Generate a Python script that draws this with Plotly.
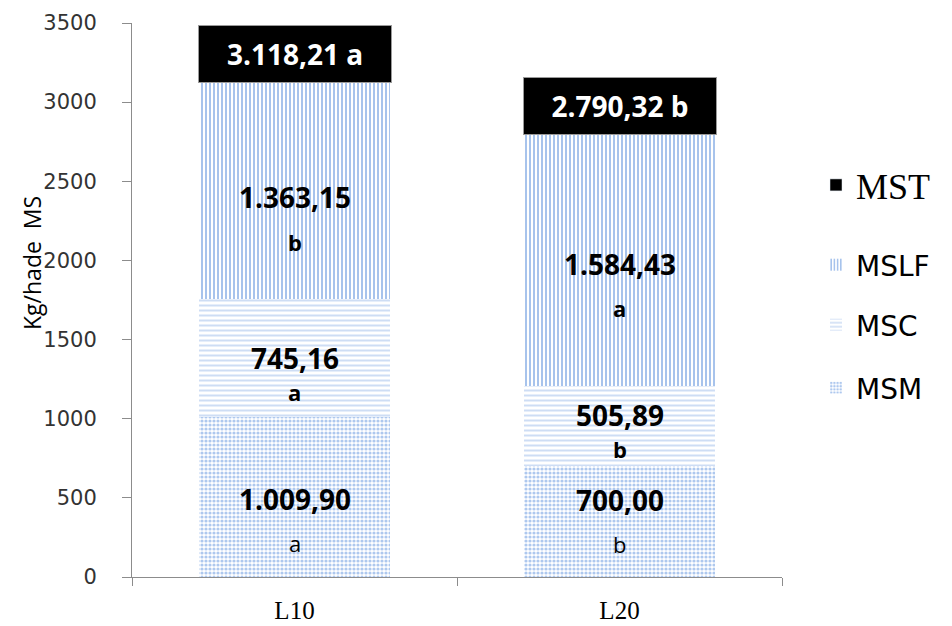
import plotly.graph_objects as go

# Dry-matter yield per component (kg/ha DM)
categories = ["L10", "L20"]
msm = [1009.90, 700.00]
msc = [745.16, 505.89]
mslf = [1363.15, 1584.43]
mst = [3118.21, 2790.32]

# Mean-separation letters for each component
msm_letters = ["a", "b"]
msc_letters = ["a", "b"]
mslf_letters = ["b", "a"]
mst_letters = ["a", "b"]

y_ticks = [0, 500, 1000, 1500, 2000, 2500, 3000, 3500]


def br_number(v):
    """Format with '.' thousands and ',' decimals."""
    s = f"{v:,.2f}"
    return s.replace(",", "#").replace(".", ",").replace("#", ".")


W, H = 952, 626
ML, MR, MT, MB = 132, 170, 23, 49
PW, PH = W - ML - MR, H - MT - MB


def px_to_paper_x(px):
    return (px - ML) / PW


def px_to_paper_y(py):
    return (H - MB - py) / PH


SANS = "Open Sans"
BAR_W = 0.585

layers = [
    dict(name="MSM", values=msm, letters=msm_letters, legend="legend4",
         pattern=dict(shape=".", fgcolor="#5e92de", bgcolor="white", size=4, solidity=0.5),
         letter_bold=False, num_shift=[-2, 22], letter_shift=[-46, -22]),
    dict(name="MSC", values=msc, letters=msc_letters, legend="legend3",
         pattern=dict(shape="-", fgcolor="#9dbbea", bgcolor="white", size=5, solidity=0.4),
         letter_bold=True, num_shift=[0, 11], letter_shift=[-34, -23]),
    dict(name="MSLF", values=mslf, letters=mslf_letters, legend="legend2",
         pattern=dict(shape="|", fgcolor="#4f87da", bgcolor="white", size=4, solidity=0.5),
         letter_bold=True, num_shift=[-6, -3], letter_shift=[-51, -47]),
]

fig = go.Figure()
annotations = []
base = [0.0 for _ in categories]

for layer in layers:
    fig.add_trace(go.Bar(
        name=layer["name"],
        x=categories,
        y=layer["values"],
        width=BAR_W,
        marker=dict(color="white", line=dict(width=0), pattern=layer["pattern"]),
        legend=layer["legend"],
        hoverinfo="skip",
    ))
    for i, cat in enumerate(categories):
        v = layer["values"][i]
        mid = base[i] + v / 2
        annotations.append(dict(
            x=cat, y=mid, xref="x", yref="y", showarrow=False,
            text=f"<b>{br_number(v)}</b>",
            font=dict(family=SANS, size=28, color="black"),
            yshift=layer["num_shift"][i],
        ))
        letter = layer["letters"][i]
        annotations.append(dict(
            x=cat, y=mid, xref="x", yref="y", showarrow=False,
            text=f"<b>{letter}</b>" if layer["letter_bold"] else letter,
            font=dict(family=SANS, size=22, color="black"),
            yshift=layer["letter_shift"][i],
        ))
        base[i] += v

# Legend-only entry for the total
fig.add_trace(go.Bar(
    name="MST", x=categories, y=[None, None], width=BAR_W,
    marker=dict(color="black"), legend="legend", hoverinfo="skip",
))

# Total labels in black boxes sitting on top of each stack
for i, cat in enumerate(categories):
    annotations.append(dict(
        x=cat, y=mst[i], xref="x", yref="y", showarrow=False,
        yanchor="bottom",
        text=f"<b>{br_number(mst[i])} {mst_letters[i]}</b>",
        font=dict(family=SANS, size=28, color="white"),
        bgcolor="black", bordercolor="#9a9a9a", borderwidth=1, borderpad=2,
        width=188, height=52,
    ))

# Y-axis title
annotations.append(dict(
    x=px_to_paper_x(14), y=px_to_paper_y(263), xref="paper", yref="paper",
    text="Kg/hade  MS", textangle=-90, showarrow=False,
    font=dict(family=SANS, size=23, color="black"),
))

legend_x = px_to_paper_x(816)


def legend_cfg(py, family, size):
    return dict(
        x=legend_x, y=px_to_paper_y(py), xanchor="left", yanchor="middle",
        xref="paper", yref="paper",
        font=dict(family=family, size=size, color="black"),
        bgcolor="rgba(0,0,0,0)", borderwidth=0,
    )


fig.update_layout(
    width=W, height=H,
    margin=dict(l=ML, r=MR, t=MT, b=MB, autoexpand=False),
    paper_bgcolor="white", plot_bgcolor="white",
    barmode="stack",
    showlegend=True,
    legend=legend_cfg(185, "Liberation Serif", 36),
    legend2=legend_cfg(265, "DejaVu Sans", 28),
    legend3=legend_cfg(325, "DejaVu Sans", 28),
    legend4=legend_cfg(388, "DejaVu Sans", 28),
    annotations=annotations,
    xaxis=dict(
        showline=True, linecolor="#8c8c8c", linewidth=1,
        ticks="outside", tickson="boundaries", ticklen=8, tickcolor="#8c8c8c",
        tickfont=dict(family="Liberation Serif", size=25, color="black"),
        ticklabelstandoff=11,
        showgrid=False,
    ),
    yaxis=dict(
        range=[0, 3500], tickvals=y_ticks,
        showline=True, linecolor="#8c8c8c", linewidth=1,
        ticks="outside", ticklen=9, tickcolor="#8c8c8c",
        tickfont=dict(family="DejaVu Sans", size=21, color="#333333"),
        ticklabelstandoff=21,
        showgrid=False, zeroline=False,
    ),
)

fig.write_html("out.html")
